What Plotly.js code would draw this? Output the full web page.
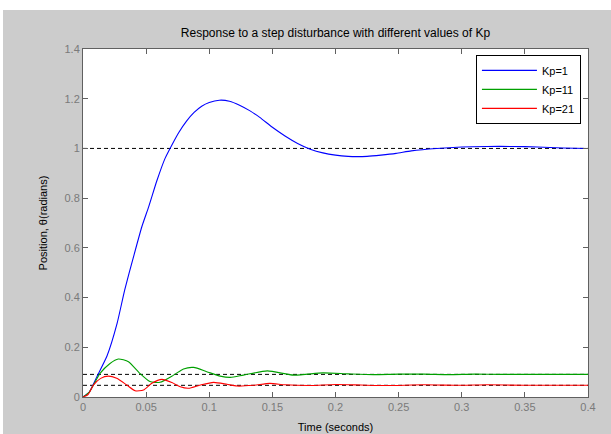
<!DOCTYPE html>
<html>
<head>
<meta charset="utf-8">
<script src="https://cdn.plot.ly/plotly-3.0.1.min.js"></script>
<style>html,body{margin:0;padding:0;background:#fff;}#chart{width:611px;height:434px;}</style>
</head>
<body>
<div id="chart"></div>
<script>
// Kp = 1
const tKp1 = [0,0.005,0.011,0.019,0.027,0.033,0.04,0.0466,0.052,0.0585,0.065,0.07,0.076,0.082,0.088,0.094,0.1,0.108,0.116,0.124,0.132,0.14,0.15,0.16,0.17,0.18,0.19,0.2,0.21,0.217,0.225,0.236,0.248,0.26,0.28,0.3,0.32,0.34,0.36,0.38,0.4];
const yKp1 = [0,0.02,0.082,0.165,0.296,0.43,0.564,0.685,0.765,0.87,0.96,1.01,1.065,1.11,1.145,1.17,1.185,1.194,1.19,1.174,1.152,1.125,1.085,1.05,1.02,0.997,0.982,0.973,0.968,0.967,0.968,0.973,0.98,0.99,1.0,1.006,1.008,1.008,1.006,1.002,1.0];
// Kp = 11
const tKp11 = [0,0.005,0.0135,0.0214,0.028,0.036,0.045,0.053,0.061,0.0717,0.0796,0.0876,0.098,0.1087,0.1167,0.127,0.146,0.167,0.19,0.21,0.23,0.25,0.27,0.29,0.31,0.33,0.36,0.4];
const yKp11 = [0,0.02,0.095,0.135,0.153,0.142,0.095,0.062,0.059,0.088,0.113,0.119,0.102,0.084,0.079,0.088,0.105,0.088,0.097,0.093,0.090,0.092,0.092,0.090,0.092,0.091,0.091,0.091];
// Kp = 21
const tKp21 = [0,0.004,0.0082,0.014,0.02,0.0267,0.0347,0.0413,0.0479,0.0545,0.0625,0.0704,0.077,0.0836,0.0929,0.1034,0.114,0.122,0.135,0.148,0.16,0.18,0.2,0.22,0.24,0.27,0.3,0.32,0.35,0.4];
const yKp21 = [0,0.01,0.048,0.075,0.084,0.075,0.048,0.025,0.028,0.055,0.071,0.058,0.041,0.035,0.048,0.059,0.051,0.044,0.047,0.055,0.049,0.046,0.05,0.048,0.046,0.049,0.047,0.049,0.047,0.047];
// steady-state reference levels (dashed)
const refLevels = [1, 0.091, 0.047];
const xRange = [0, 0.4];
const xTicks = [0,0.05,0.1,0.15,0.2,0.25,0.3,0.35,0.4];
const yTicks = [0,0.2,0.4,0.6,0.8,1,1.2,1.4];

const font = "Liberation Sans, Arial, sans-serif";
const traces = [];
refLevels.forEach(v => traces.push({x: xRange, y: [v, v], mode: 'lines', showlegend: false, hoverinfo: 'skip',
  line: {color: '#000000', width: 1, dash: '4px,3px'}}));
traces.push({x: tKp1, y: yKp1, name: 'Kp=1', mode: 'lines', line: {color: '#0000ff', width: 1.1, shape: 'spline', smoothing: 0.5}});
traces.push({x: tKp11, y: yKp11, name: 'Kp=11', mode: 'lines', line: {color: '#00a000', width: 1.1, shape: 'spline', smoothing: 0.6}});
traces.push({x: tKp21, y: yKp21, name: 'Kp=21', mode: 'lines', line: {color: '#ff0000', width: 1.1, shape: 'spline', smoothing: 0.6}});

const axisCommon = {showgrid: false, zeroline: false, showline: true, linecolor: '#606060', linewidth: 1,
  mirror: 'ticks', ticks: 'inside', ticklen: 5, tickcolor: '#606060',
  tickfont: {family: font, size: 11, color: '#7a7a7a'}};

const layout = {
  width: 611, height: 434,
  paper_bgcolor: '#cccccc', plot_bgcolor: '#ffffff',
  margin: {l: 83, r: 23, t: 49, b: 37},
  title: {text: 'Response to a step disturbance with different values of Kp', font: {family: font, size: 12, color: '#000'},
    x: 0.5, xref: 'paper', y: 1 - 33/434, yref: 'container', yanchor: 'middle'},
  xaxis: Object.assign({}, axisCommon, {range: xRange, tickvals: xTicks, ticktext: xTicks.map(String),
    title: {text: 'Time (seconds)', font: {family: font, size: 11, color: '#000'}, standoff: 11}}),
  yaxis: Object.assign({}, axisCommon, {range: [0, 1.4], tickvals: yTicks, ticktext: yTicks.map(String),
    title: {text: 'Position, θ(radians)', font: {family: font, size: 11, color: '#000'}, standoff: 14}}),
  legend: {x: 0.986, xanchor: 'right', y: 0.983, yanchor: 'top', bgcolor: '#ffffff', bordercolor: '#000000', borderwidth: 1,
    font: {family: font, size: 11, color: '#000'}, tracegroupgap: 0, itemwidth: 55},
  shapes: [
    {type: 'rect', xref: 'paper', yref: 'paper', x0: -0.2, x1: 1.1, y0: (397-10)/348, y1: 1.2, fillcolor: '#ffffff', line: {width: 0}, layer: 'below'},
    {type: 'rect', xref: 'paper', yref: 'paper', x0: -83/505, x1: -80/505, y0: -0.2, y1: 1.2, fillcolor: '#ffffff', line: {width: 0}, layer: 'below'}
  ],
  showlegend: true
};
Plotly.newPlot('chart', traces, layout, {displayModeBar: false, staticPlot: true});
</script>
</body>
</html>
